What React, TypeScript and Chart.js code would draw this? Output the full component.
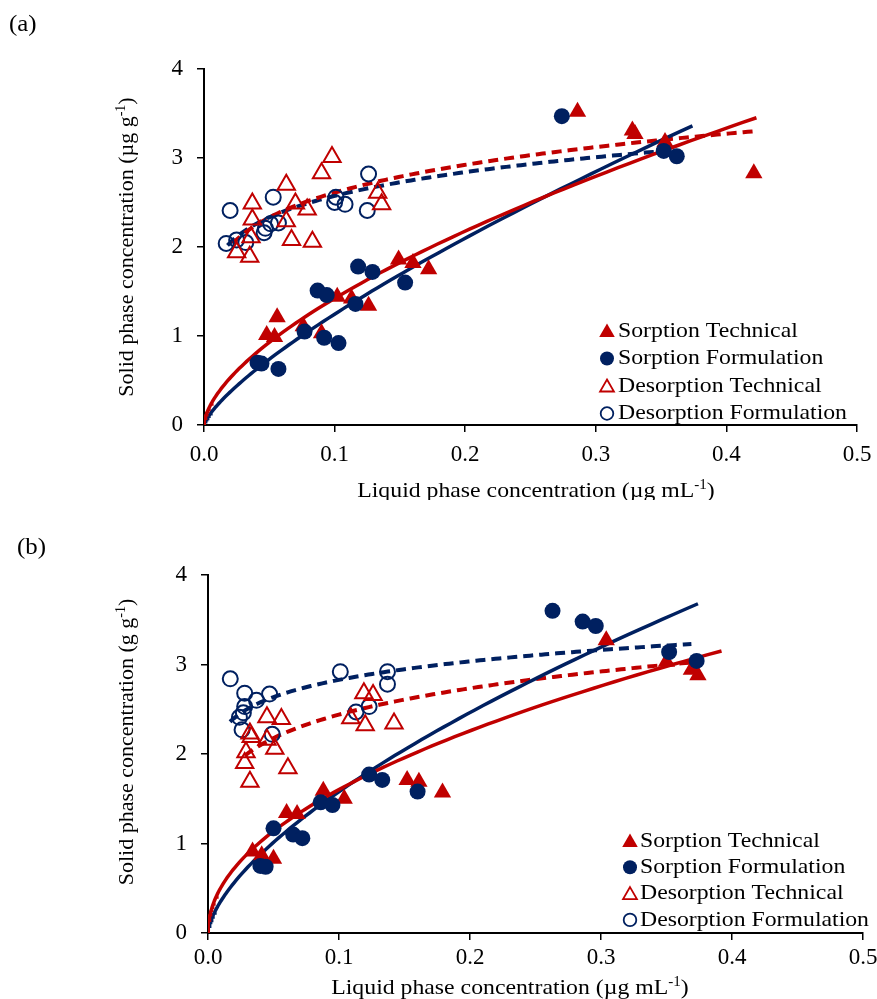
import { useEffect, useRef } from "react";
import { Chart, registerables } from "chart.js";

Chart.register(...registerables);

const RED = "#C00000";
const NAVY = "#002060";
const SERIF = "'Liberation Serif', 'Times New Roman', serif";
// horizontal text is set slightly wide, as in the exported figure
const WIDE = 1.08;

type Pt = [number, number];

// ---- Panel (a): observed isotherm points (liquid conc., solid conc.) ----
const aSorptionTechnical: Pt[] = [
  [0.048, 1.01], [0.054, 0.99], [0.056, 1.21], [0.076, 1.11], [0.09, 1.03],
  [0.102, 1.44], [0.113, 1.42], [0.126, 1.34], [0.149, 1.86], [0.16, 1.82],
  [0.172, 1.75], [0.286, 3.52], [0.328, 3.31], [0.33, 3.27], [0.353, 3.18],
  [0.421, 2.83],
];
const aSorptionFormulation: Pt[] = [
  [0.041, 0.7], [0.044, 0.69], [0.057, 0.63], [0.077, 1.05], [0.087, 1.51],
  [0.092, 0.98], [0.094, 1.46], [0.103, 0.92], [0.116, 1.36], [0.118, 1.78],
  [0.129, 1.72], [0.154, 1.6], [0.274, 3.47], [0.352, 3.08], [0.362, 3.02],
];
const aDesorptionTechnical: Pt[] = [
  [0.025, 1.94], [0.035, 1.89], [0.036, 2.11], [0.037, 2.31], [0.037, 2.49],
  [0.063, 2.29], [0.063, 2.7], [0.067, 2.08], [0.07, 2.49], [0.079, 2.42],
  [0.083, 2.06], [0.09, 2.83], [0.098, 3.01], [0.133, 2.61], [0.136, 2.48],
];
const aDesorptionFormulation: Pt[] = [
  [0.017, 2.04], [0.025, 2.08], [0.032, 2.05], [0.02, 2.41], [0.046, 2.16],
  [0.047, 2.21], [0.051, 2.26], [0.057, 2.27], [0.053, 2.56], [0.1, 2.5],
  [0.101, 2.56], [0.108, 2.48], [0.125, 2.41], [0.126, 2.82],
];

// Freundlich fits q = K * C^n, drawn over [from, to]
type Fit = { K: number; n: number; from: number; to: number };
const aFitSorptionTechnical: Fit = { K: 5.86, n: 0.615, from: 0, to: 0.423 };
const aFitSorptionFormulation: Fit = { K: 7.05, n: 0.753, from: 0, to: 0.374 };
const aFitDesorptionTechnical: Fit = { K: 3.8, n: 0.163, from: 0.022, to: 0.423 };
const aFitDesorptionFormulation: Fit = { K: 3.57, n: 0.142, from: 0.018, to: 0.355 };

// ---- Panel (b) ----
const bSorptionTechnical: Pt[] = [
  [0.034, 0.91], [0.041, 0.87], [0.05, 0.83], [0.06, 1.34], [0.068, 1.33],
  [0.088, 1.59], [0.104, 1.5], [0.152, 1.71], [0.161, 1.69], [0.179, 1.57],
  [0.304, 3.27], [0.35, 3.03], [0.369, 2.94], [0.374, 2.88],
];
const bSorptionFormulation: Pt[] = [
  [0.04, 0.75], [0.044, 0.74], [0.05, 1.17], [0.065, 1.1], [0.072, 1.06],
  [0.086, 1.46], [0.095, 1.43], [0.123, 1.77], [0.133, 1.71], [0.16, 1.58],
  [0.263, 3.6], [0.286, 3.48], [0.296, 3.43], [0.352, 3.14], [0.373, 3.04],
];
const bDesorptionTechnical: Pt[] = [
  [0.028, 1.9], [0.029, 2.02], [0.032, 1.69], [0.032, 2.23], [0.033, 2.19],
  [0.045, 2.16], [0.045, 2.41], [0.051, 2.06], [0.056, 2.39], [0.061, 1.84],
  [0.109, 2.4], [0.119, 2.68], [0.12, 2.32], [0.126, 2.66], [0.142, 2.34],
];
const bDesorptionFormulation: Pt[] = [
  [0.017, 2.84], [0.024, 2.41], [0.026, 2.27], [0.027, 2.46], [0.028, 2.53],
  [0.028, 2.68], [0.037, 2.6], [0.047, 2.67], [0.049, 2.22], [0.101, 2.92],
  [0.113, 2.47], [0.123, 2.53], [0.137, 2.92], [0.137, 2.78],
];
const bFitSorptionTechnical: Fit = { K: 5.01, n: 0.495, from: 0, to: 0.392 };
const bFitSorptionFormulation: Fit = { K: 6.91, n: 0.641, from: 0, to: 0.374 };
const bFitDesorptionTechnical: Fit = { K: 3.56, n: 0.164, from: 0.028, to: 0.373 };
const bFitDesorptionFormulation: Fit = { K: 3.574, n: 0.1016, from: 0.0168, to: 0.369 };

const legendLabels = [
  "Sorption Technical",
  "Sorption Formulation",
  "Desorption Technical",
  "Desorption Formulation",
];
const xTicks = [0, 0.1, 0.2, 0.3, 0.4, 0.5];
const yTicks = [0, 1, 2, 3, 4];

type Rich = { t: string; sup?: boolean }[];
const xTitle: Rich = [{ t: "Liquid phase concentration (\u00B5g mL" }, { t: "-1", sup: true }, { t: ")" }];
const aYTitle: Rich = [{ t: "Solid phase concentration (\u00B5g g" }, { t: "-1", sup: true }, { t: ")" }];
const bYTitle: Rich = [{ t: "Solid phase concentration (g g" }, { t: "-1", sup: true }, { t: ")" }];

function fitCurve(f: Fit): Pt[] {
  const out: Pt[] = [];
  const N = 120;
  for (let i = 0; i <= N; i++) {
    const t = i / N;
    const s = f.from === 0 ? t * t * t : t;
    const x = f.from + (f.to - f.from) * s;
    out.push([x, f.K * Math.pow(x, f.n)]);
  }
  return out;
}

// centred text with a superscript part; sx widens it horizontally
function drawRich(ctx: CanvasRenderingContext2D, parts: Rich, cx: number, cy: number, size: number, sx: number) {
  const big = `${size}px ${SERIF}`;
  const small = `${Math.round(size * 0.65)}px ${SERIF}`;
  let w = 0;
  for (const p of parts) {
    ctx.font = p.sup ? small : big;
    w += ctx.measureText(p.t).width;
  }
  ctx.save();
  ctx.translate(cx, cy);
  ctx.scale(sx, 1);
  let x = -w / 2;
  ctx.textAlign = "left";
  ctx.textBaseline = "alphabetic";
  const base = size * 0.33;
  for (const p of parts) {
    ctx.font = p.sup ? small : big;
    ctx.fillText(p.t, x, p.sup ? base - size * 0.38 : base);
    x += ctx.measureText(p.t).width;
  }
  ctx.restore();
}

function drawWide(ctx: CanvasRenderingContext2D, text: string, x: number, y: number, size: number) {
  ctx.save();
  ctx.translate(x, y);
  ctx.scale(WIDE, 1);
  ctx.font = `${size}px ${SERIF}`;
  ctx.textAlign = "left";
  ctx.textBaseline = "middle";
  ctx.fillText(text, 0, 0);
  ctx.restore();
}

function markerPath(ctx: CanvasRenderingContext2D, kind: string, x: number, y: number, r: number) {
  ctx.beginPath();
  if (kind === "triangle") {
    const s = Math.sin((2 * Math.PI) / 3) * r;
    ctx.moveTo(x, y - r);
    ctx.lineTo(x + s, y + r / 2);
    ctx.lineTo(x - s, y + r / 2);
    ctx.closePath();
  } else {
    ctx.arc(x, y, r, 0, Math.PI * 2);
  }
}

const annotate = {
  id: "annotate",
  afterDraw(chart: any, _args: any, o: any) {
    const ctx: CanvasRenderingContext2D = chart.ctx;
    ctx.save();
    ctx.fillStyle = "#000";
    // panel tag
    drawWide(ctx, o.tag, o.tagX, o.tagY, 23);
    // axis titles
    drawRich(ctx, o.xTitle, o.xTitleX, o.xTitleY, 22, WIDE);
    ctx.save();
    ctx.translate(o.yTitleX, o.yTitleY);
    ctx.rotate(-Math.PI / 2);
    drawRich(ctx, o.yTitle, 0, 0, 22, 1);
    ctx.restore();
    // legend
    const kinds = [
      { k: "triangle", c: RED, fill: true, r: 9 },
      { k: "circle", c: NAVY, fill: true, r: 7 },
      { k: "triangle", c: RED, fill: false, r: 8 },
      { k: "circle", c: NAVY, fill: false, r: 6.3 },
    ];
    legendLabels.forEach((label, i) => {
      const y = o.legendY + i * o.legendGap;
      const m = kinds[i];
      markerPath(ctx, m.k, o.legendX, y + (m.k === "triangle" ? 1.5 : 0), m.r);
      if (m.fill) {
        ctx.fillStyle = m.c;
        ctx.fill();
      } else {
        ctx.strokeStyle = m.c;
        ctx.lineWidth = 1.8;
        ctx.stroke();
      }
      ctx.fillStyle = "#000";
      drawWide(ctx, label, o.legendX + o.legendTextGap, y, 22);
    });
    ctx.restore();
  },
};

type Panel = {
  st: Pt[]; sf: Pt[]; dt: Pt[]; df: Pt[];
  fst: Fit; fsf: Fit; fdt: Fit; fdf: Fit;
  height: number; left: number; right: number; top: number; xAxisH: number; xTickPad: number;
  annot: any;
};

function toXY(p: Pt[]) {
  return p.map(([x, y]) => ({ x, y }));
}

function buildConfig(p: Panel): any {
  const pts = (data: Pt[], style: string, color: string, filled: boolean, r: number) => ({
    type: "scatter",
    data: toXY(data),
    pointStyle: style,
    pointRadius: r,
    pointBackgroundColor: filled ? color : "rgba(0,0,0,0)",
    pointBorderColor: color,
    pointBorderWidth: filled ? 0 : 2,
    showLine: false,
    order: 1,
  });
  const line = (f: Fit, color: string, dashed: boolean) => ({
    type: "scatter",
    data: toXY(fitCurve(f)),
    showLine: true,
    pointRadius: 0,
    borderColor: color,
    borderWidth: dashed ? 4 : 3.5,
    borderDash: dashed ? [10, 6] : [],
    tension: 0,
    order: 5,
  });
  const tickFont = { family: SERIF, size: 23 };
  return {
    type: "scatter",
    data: {
      datasets: [
        line(p.fst, RED, false),
        line(p.fsf, NAVY, false),
        line(p.fdt, RED, true),
        line(p.fdf, NAVY, true),
        pts(p.dt, "triangle", RED, false, 10),
        pts(p.df, "circle", NAVY, false, 7.5),
        pts(p.sf, "circle", NAVY, true, 8),
        pts(p.st, "triangle", RED, true, 10),
      ],
    },
    options: {
      animation: false,
      responsive: false,
      maintainAspectRatio: false,
      devicePixelRatio: 1,
      events: [],
      layout: { padding: { left: 0, right: p.right, top: p.top, bottom: 0 } },
      plugins: {
        legend: { display: false },
        tooltip: { enabled: false },
        annotate: p.annot,
      },
      scales: {
        x: {
          type: "linear",
          min: xTicks[0],
          max: xTicks[xTicks.length - 1],
          afterBuildTicks: (s: any) => {
            s.ticks = xTicks.map((v) => ({ value: v }));
          },
          afterFit: (s: any) => {
            s.height = p.xAxisH;
            s.paddingLeft = 0;
            s.paddingRight = 0;
          },
          ticks: {
            color: "#000",
            font: tickFont,
            padding: p.xTickPad,
            maxRotation: 0,
            callback: (v: any) => Number(v).toFixed(1),
          },
          grid: { drawOnChartArea: false, drawTicks: true, tickLength: 7, color: "#000", lineWidth: 1.5 },
          border: { color: "#000", width: 2 },
        },
        y: {
          type: "linear",
          min: yTicks[0],
          max: yTicks[yTicks.length - 1],
          afterBuildTicks: (s: any) => {
            s.ticks = yTicks.map((v) => ({ value: v }));
          },
          afterFit: (s: any) => {
            s.width = p.left;
            s.paddingTop = 0;
            s.paddingBottom = 0;
          },
          ticks: { color: "#000", font: tickFont, padding: 14, callback: (v: any) => String(v) },
          grid: { drawOnChartArea: false, drawTicks: true, tickLength: 7, color: "#000", lineWidth: 1.5 },
          border: { color: "#000", width: 2 },
        },
      },
    },
    plugins: [annotate],
  };
}

const panelA: Panel = {
  st: aSorptionTechnical, sf: aSorptionFormulation, dt: aDesorptionTechnical, df: aDesorptionFormulation,
  fst: aFitSorptionTechnical, fsf: aFitSorptionFormulation, fdt: aFitDesorptionTechnical, fdf: aFitDesorptionFormulation,
  height: 500, left: 204, right: 20, top: 69, xAxisH: 75, xTickPad: 9,
  annot: {
    tag: "(a)", tagX: 9, tagY: 25,
    xTitle, xTitleX: 536, xTitleY: 490,
    yTitle: aYTitle, yTitleX: 126, yTitleY: 247,
    legendX: 607, legendY: 331, legendGap: 27.5, legendTextGap: 11,
  },
};

const panelB: Panel = {
  st: bSorptionTechnical, sf: bSorptionFormulation, dt: bDesorptionTechnical, df: bDesorptionFormulation,
  fst: bFitSorptionTechnical, fsf: bFitSorptionFormulation, fdt: bFitDesorptionTechnical, fdf: bFitDesorptionFormulation,
  height: 499, left: 208, right: 14, top: 75, xAxisH: 66, xTickPad: 4,
  annot: {
    tag: "(b)", tagX: 17, tagY: 48,
    xTitle, xTitleX: 510, xTitleY: 487,
    yTitle: bYTitle, yTitleX: 126, yTitleY: 242,
    legendX: 630, legendY: 341, legendGap: 26.3, legendTextGap: 10,
  },
};

function IsothermPanel({ panel, top }: { panel: Panel; top: number }) {
  const ref = useRef<HTMLCanvasElement | null>(null);
  useEffect(() => {
    if (!ref.current) return;
    const chart = new Chart(ref.current, buildConfig(panel));
    return () => chart.destroy();
  }, [panel]);
  return (
    <canvas
      ref={ref}
      width={877}
      height={panel.height}
      style={{ position: "absolute", left: 0, top, width: 877, height: panel.height, display: "block" }}
    />
  );
}

export default function App() {
  return (
    <div style={{ position: "absolute", left: 0, top: 0, width: 877, height: 999, background: "#fff" }}>
      <IsothermPanel panel={panelA} top={0} />
      <IsothermPanel panel={panelB} top={500} />
    </div>
  );
}
